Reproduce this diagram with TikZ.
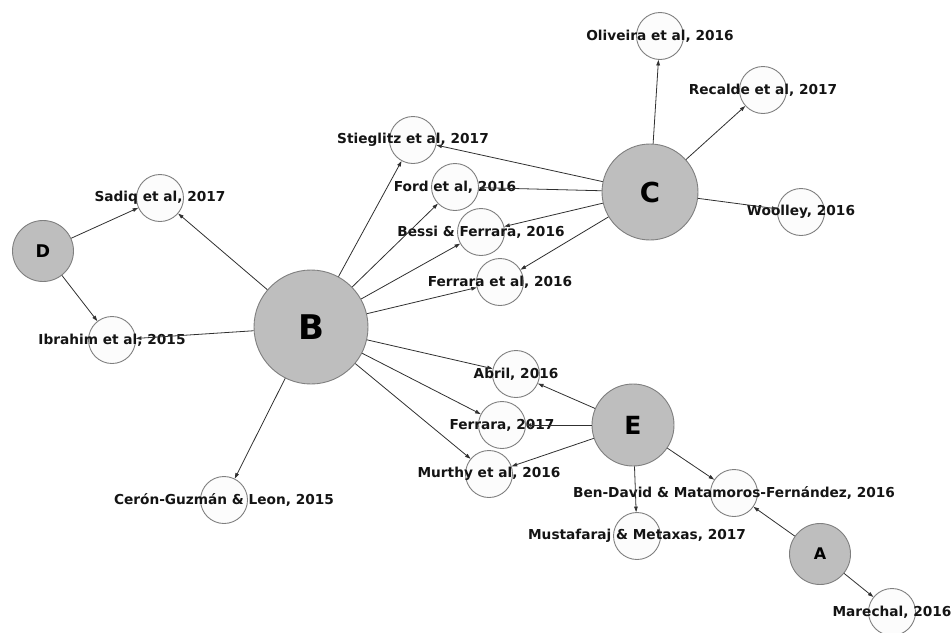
\documentclass[tikz,border=0pt]{standalone}
\usepackage{fontspec}
\setmainfont{DejaVu Sans}
\usetikzlibrary{arrows.meta}

\definecolor{hubfill}{HTML}{BEBEBE}
\definecolor{ringgray}{HTML}{7F7F7F}
\definecolor{leaffill}{HTML}{FCFCFC}
\definecolor{edgegray}{HTML}{303030}

\tikzset{
  hub/.style={circle, draw=ringgray, fill=hubfill, line width=0.9pt, inner sep=0pt},
  paper/.style={circle, draw=ringgray, fill=leaffill, line width=0.9pt, minimum size=47pt, inner sep=0pt},
  papertext/.style={font=\bfseries\fontsize{13.7}{16}\selectfont, inner sep=0pt, text=black!92},
  cites/.style={draw=edgegray, line width=0.8pt, -{Triangle[length=5.5pt,width=3.6pt]}},
}

\begin{document}
\begin{tikzpicture}[x=1pt, y=-1pt]
  \useasboundingbox (0,0) rectangle (952,632);

  % Hubs
  \node[hub, minimum size=114pt, font=\bfseries\fontsize{34}{34}\selectfont] (B) at (311,327) {B};
  \node[hub, minimum size=96pt, font=\bfseries\fontsize{27.5}{28}\selectfont] (C) at (650,192) {C};
  \node[hub, minimum size=82pt, font=\bfseries\fontsize{25}{25}\selectfont] (E) at (633,425) {E};
  \node[hub, minimum size=61pt, font=\bfseries\fontsize{17.5}{18}\selectfont] (D) at (43,251) {D};
  \node[hub, minimum size=61pt, font=\bfseries\fontsize{16}{16}\selectfont] (A) at (820,554) {A};

  % Papers
  \node[paper] (sadiq) at (160,198) {};
  \node[paper] (ibrahim) at (112,340) {};
  \node[paper] (stieglitz) at (413,140) {};
  \node[paper] (ford) at (455,187) {};
  \node[paper] (bessi) at (481,232) {};
  \node[paper] (ferraraA) at (500,282) {};
  \node[paper] (oliveira) at (660,36) {};
  \node[paper] (recalde) at (763,90) {};
  \node[paper] (woolley) at (801,212) {};
  \node[paper] (abril) at (516,374) {};
  \node[paper] (ferraraB) at (502,425) {};
  \node[paper] (murthy) at (489,474) {};
  \node[paper] (bendavid) at (734,493) {};
  \node[paper] (mustafaraj) at (637,536) {};
  \node[paper] (marechal) at (892,612) {};
  \node[paper] (ceron) at (224,500) {};

  % Paper labels
  \node[papertext] (sadiqlbl) at (sadiq) {Sadiq et al, 2017};
  \node[papertext] (ibrahimlbl) at (ibrahim) {Ibrahim et al, 2015};
  \node[papertext] (stieglitzlbl) at (stieglitz) {Stieglitz et al, 2017};
  \node[papertext] (fordlbl) at (ford) {Ford et al, 2016};
  \node[papertext] (bessilbl) at (bessi) {Bessi \& Ferrara, 2016};
  \node[papertext] (ferraraAlbl) at (ferraraA) {Ferrara et al, 2016};
  \node[papertext] (oliveiralbl) at (oliveira) {Oliveira et al, 2016};
  \node[papertext] (recaldelbl) at (recalde) {Recalde et al, 2017};
  \node[papertext] (woolleylbl) at (woolley) {Woolley, 2016};
  \node[papertext] (abrillbl) at (abril) {Abril, 2016};
  \node[papertext] (ferraraBlbl) at (ferraraB) {Ferrara, 2017};
  \node[papertext] (murthylbl) at (murthy) {Murthy et al, 2016};
  \node[papertext] (bendavidlbl) at (bendavid) {Ben-David \& Matamoros-Fernández, 2016};
  \node[papertext] (mustafarajlbl) at (mustafaraj) {Mustafaraj \& Metaxas, 2017};
  \node[papertext] (marechallbl) at (marechal) {Marechal, 2016};
  \node[papertext] (ceronlbl) at (ceron) {Cerón-Guzmán \& Leon, 2015};

  % Citations
  \draw[cites] (D) -- (sadiq);
  \draw[cites] (D) -- (ibrahim);
  \draw[cites] (B) -- (sadiq);
  \draw[cites] (B) -- (ibrahim);
  \draw[cites] (B) -- (stieglitz);
  \draw[cites] (B) -- (ford);
  \draw[cites] (B) -- (bessi);
  \draw[cites] (B) -- (ferraraA);
  \draw[cites] (B) -- (abril);
  \draw[cites] (B) -- (ferraraB);
  \draw[cites] (B) -- (murthy);
  \draw[cites] (B) -- (ceron);
  \draw[cites] (C) -- (stieglitz);
  \draw[cites] (C) -- (ford);
  \draw[cites] (C) -- (bessi);
  \draw[cites] (C) -- (ferraraA);
  \draw[cites] (C) -- (oliveira);
  \draw[cites] (C) -- (recalde);
  \draw[cites] (C) -- (woolley);
  \draw[cites] (E) -- (abril);
  \draw[cites] (E) -- (ferraraB);
  \draw[cites] (E) -- (murthy);
  \draw[cites] (E) -- (bendavid);
  \draw[cites] (E) -- (mustafaraj);
  \draw[cites] (A) -- (bendavid);
  \draw[cites] (A) -- (marechal);
\end{tikzpicture}
\end{document}
